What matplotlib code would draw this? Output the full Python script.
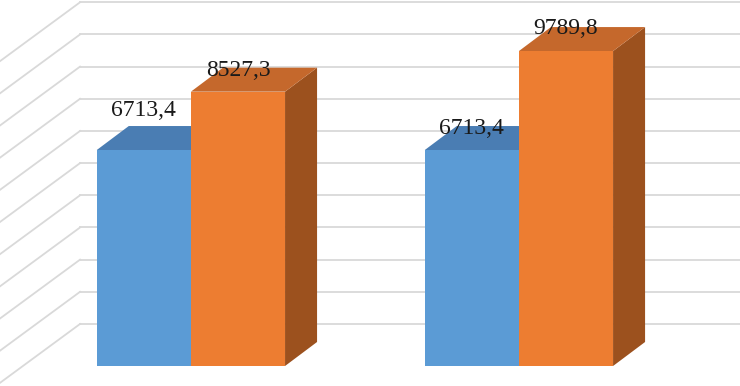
import numpy as np
import matplotlib
matplotlib.use('Agg')
import matplotlib.pyplot as plt
from matplotlib.patches import Polygon

# data
groups = [0, 1]
blue_vals = [6713.4, 6713.4]
orange_vals = [8527.3, 9789.8]
blue_labels = ['6713,4', '6713,4']
orange_labels = ['8527,3', '9789,8']
grid_vals = np.arange(0, 10001, 1000)

# colours
blue_front, blue_top = '#5B9BD5', '#4A7DB3'
orange_front, orange_top, orange_side = '#ED7D31', '#C5682C', '#9C511E'
grid_col = '#D9D9D9'

# fake 3d geometry (in data units)
bar_w = 0.287
depth_x, depth_y = 0.0976, 746      # bar depth offset
wall_x, wall_y = 0.171, 1306        # back wall offset from bar front plane
wall_left = -0.338                  # back wall left edge

fig = plt.figure(figsize=(7.4, 3.86), dpi=100)
ax = fig.add_axes([0, 0, 1, 1])
ax.set_xlim(-0.582, 1.674)
ax.set_ylim(-622, 11377)
ax.axis('off')

# back wall and side wall gridlines
for g in grid_vals:
    yb = g + wall_y
    ax.plot([wall_left, 1.674], [yb, yb], color=grid_col, lw=1.3, zorder=1)
    ax.plot([wall_left, wall_left - 0.32], [yb, yb - 2400], color=grid_col, lw=1.3, zorder=1)


def draw_bar(x0, v, front, top, side):
    x1 = x0 + bar_w
    ax.add_patch(Polygon([[x1, 0], [x1 + depth_x, depth_y], [x1 + depth_x, v + depth_y], [x1, v]],
                         closed=True, fc=side, ec='none', zorder=2))
    ax.add_patch(Polygon([[x0, v], [x1, v], [x1 + depth_x, v + depth_y], [x0 + depth_x, v + depth_y]],
                         closed=True, fc=top, ec='none', zorder=2))
    ax.add_patch(Polygon([[x0, 0], [x1, 0], [x1, v], [x0, v]],
                         closed=True, fc=front, ec='none', zorder=2))


for g, bv, ov in zip(groups, blue_vals, orange_vals):
    draw_bar(g - bar_w, bv, blue_front, blue_top, blue_top)
    draw_bar(g, ov, orange_front, orange_top, orange_side)

# value labels
nudge_blue = [40, 22]
nudge_orange = [21, 23]
for g, bv, ov, bl, ol, nb, no in zip(groups, blue_vals, orange_vals, blue_labels,
                                     orange_labels, nudge_blue, nudge_orange):
    ax.annotate(bl, (g - bar_w / 2, bv), xytext=(0, nb), textcoords='offset pixels',
                ha='center', va='center', fontsize=17, family='Liberation Serif',
                color='#1a1a1a', zorder=5)
    ax.annotate(ol, (g + bar_w / 2, ov), xytext=(0, no), textcoords='offset pixels',
                ha='center', va='center', fontsize=17, family='Liberation Serif',
                color='#1a1a1a', zorder=5)

fig.savefig('out.png', dpi=100)
